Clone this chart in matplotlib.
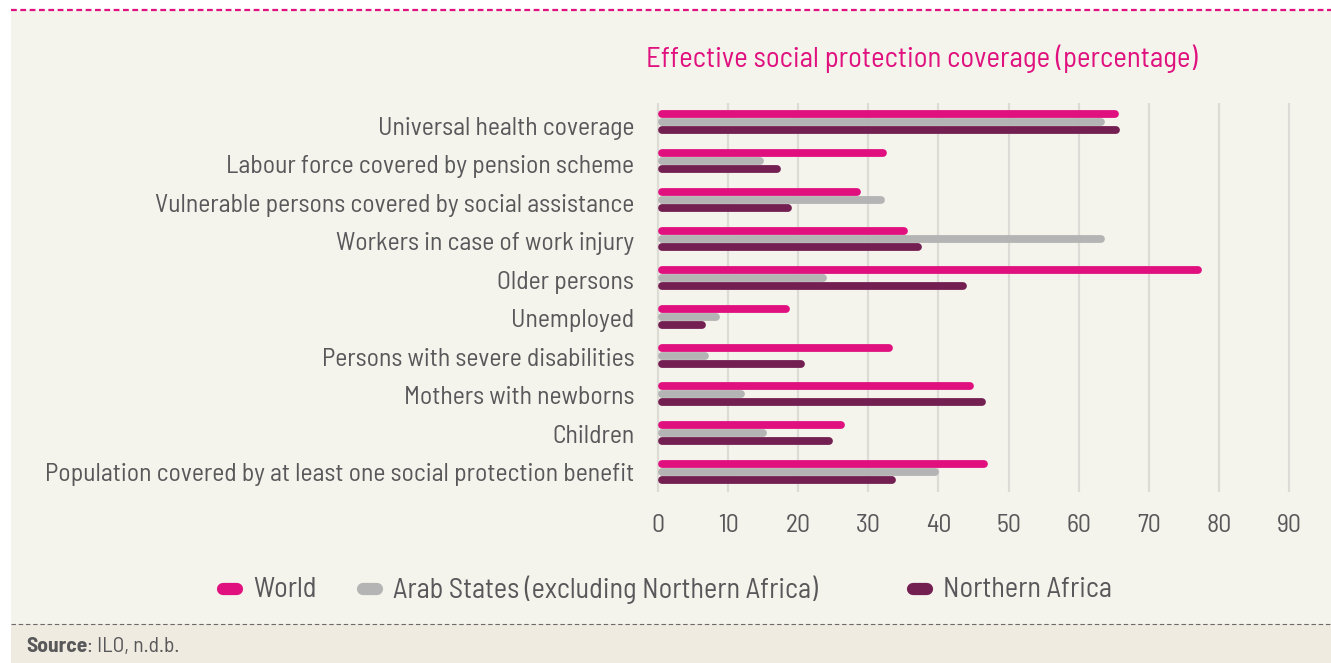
import matplotlib
matplotlib.use('Agg')
import matplotlib.pyplot as plt
from matplotlib.lines import Line2D
from matplotlib.patches import Rectangle

categories = [
    'Universal health coverage',
    'Labour force covered by pension scheme',
    'Vulnerable persons covered by social assistance',
    'Workers in case of work injury',
    'Older persons',
    'Unemployed',
    'Persons with severe disabilities',
    'Mothers with newborns',
    'Children',
    'Population covered by at least one social protection benefit',
]
world = [65.8, 32.7, 29.0, 35.6, 77.6, 18.8, 33.5, 45.1, 26.6, 47.0]
arab_states = [63.7, 15.1, 32.3, 63.7, 24.1, 8.9, 7.3, 12.4, 15.5, 40.1]
northern_africa = [65.9, 17.5, 19.1, 37.6, 44.0, 6.9, 21.0, 46.7, 25.0, 34.0]
series_names = ['World', 'Arab States (excluding Northern Africa)', 'Northern Africa']
xticks = list(range(0, 100, 10))

MAGENTA = '#e0117f'
GREY = '#b4b4b4'
PURPLE = '#741f52'
TEXT = '#58585a'
BG = '#f4f3ec'
SRC_BG = '#efebe0'
FONT = 'Barlow Semi Condensed'

W, H = 1331, 663
plt.rcParams['font.family'] = [FONT, 'DejaVu Sans']

fig = plt.figure(figsize=(W / 100, H / 100), dpi=100, facecolor='white')

# background panels + dashed rules
fig.patches.append(Rectangle((11 / W, 0), 1, 1 - 10 / H, transform=fig.transFigure,
                             facecolor=BG, edgecolor='none', zorder=-10))
fig.patches.append(Rectangle((11 / W, 0), 1, 1 - 624 / H, transform=fig.transFigure,
                             facecolor=SRC_BG, edgecolor='none', zorder=-9))
fig.add_artist(Line2D([11 / W, 1], [1 - 10 / H] * 2, color=MAGENTA, lw=1.6,
                      ls=(0, (2.6, 1.6)), transform=fig.transFigure))
fig.add_artist(Line2D([11 / W, 1], [1 - 624 / H] * 2, color='#6a6a6a', lw=0.8,
                      ls=(0, (4, 2.5)), transform=fig.transFigure))

x0, x1 = -0.3, 90.3
px_per_unit = 631 / 90
left_px = 658 + x0 * px_per_unit
right_px = 658 + x1 * px_per_unit
top_px, bot_px = 103, 491.5
row_px = (bot_px - top_px) / len(categories)
ax = fig.add_axes([left_px / W, 1 - bot_px / H, (right_px - left_px) / W, (bot_px - top_px) / H])
ax.set_facecolor('none')
ax.set_xlim(x0, x1)
ax.set_ylim(len(categories) - 0.5, -0.5)

# bars with rounded ends
bar_px = 7.8
lw = bar_px * 72 / 100
r = bar_px / 2 / px_per_unit
off = 8 / row_px
for k, (vals, col) in enumerate(zip([world, arab_states, northern_africa], [MAGENTA, GREY, PURPLE])):
    ys = [i + (k - 1) * off for i in range(len(categories))]
    lc = ax.hlines(ys, [r] * len(vals), [v - r for v in vals], colors=col, lw=lw, zorder=3 + (k != 1))
    lc.set_capstyle('round')

ax.set_xticks(xticks)
ax.set_xticklabels([str(t) for t in xticks])
# labels sit a touch lower at the top than the bar groups
lab_top, lab_bot = 126, 472
lab_pos = [(lab_top + i * (lab_bot - lab_top) / (len(categories) - 1) - top_px) / row_px - 0.5
           for i in range(len(categories))]
ax.set_yticks(lab_pos)
ax.set_yticklabels(categories)
ax.tick_params(axis='y', length=0, pad=15.5, labelsize=18.5, labelcolor=TEXT)
ax.tick_params(axis='x', length=0, pad=16, labelsize=18.5, labelcolor=TEXT)
ax.set_xticks(xticks)
ax.grid(axis='x', color='#dcdbd6', lw=1.6, zorder=0)
ax.grid(axis='y', visible=False)
for s in ax.spines.values():
    s.set_visible(False)

fig.text(646 / W, 1 - 59 / H, 'Effective social protection coverage (percentage)',
         color=MAGENTA, fontsize=20.7, va='center', ha='left')

# legend
pills = [(217, 243, 253), (357, 383, 393), (907, 933, 943)]
for (p0, p1, tx), col, name in zip(pills, [MAGENTA, GREY, PURPLE], series_names):
    fig.add_artist(Line2D([(p0 + 6) / W, (p1 - 6) / W], [1 - 589 / H] * 2, color=col, lw=8.8,
                          solid_capstyle='round', transform=fig.transFigure))
    fig.text(tx / W, 1 - 590 / H, name, color=TEXT, fontsize=20.3, va='center', ha='left')

# source line
t = fig.text(26 / W, 1 - 647 / H, 'Source', color=TEXT, fontsize=15.5, va='center',
             fontweight='bold')
fig.canvas.draw()
bb = t.get_window_extent()
fig.text(bb.x1 / W, 1 - 647 / H, ': ILO, n.d.b.', color=TEXT, fontsize=15.5, va='center')

fig.savefig('out.png', dpi=100, facecolor='white')
